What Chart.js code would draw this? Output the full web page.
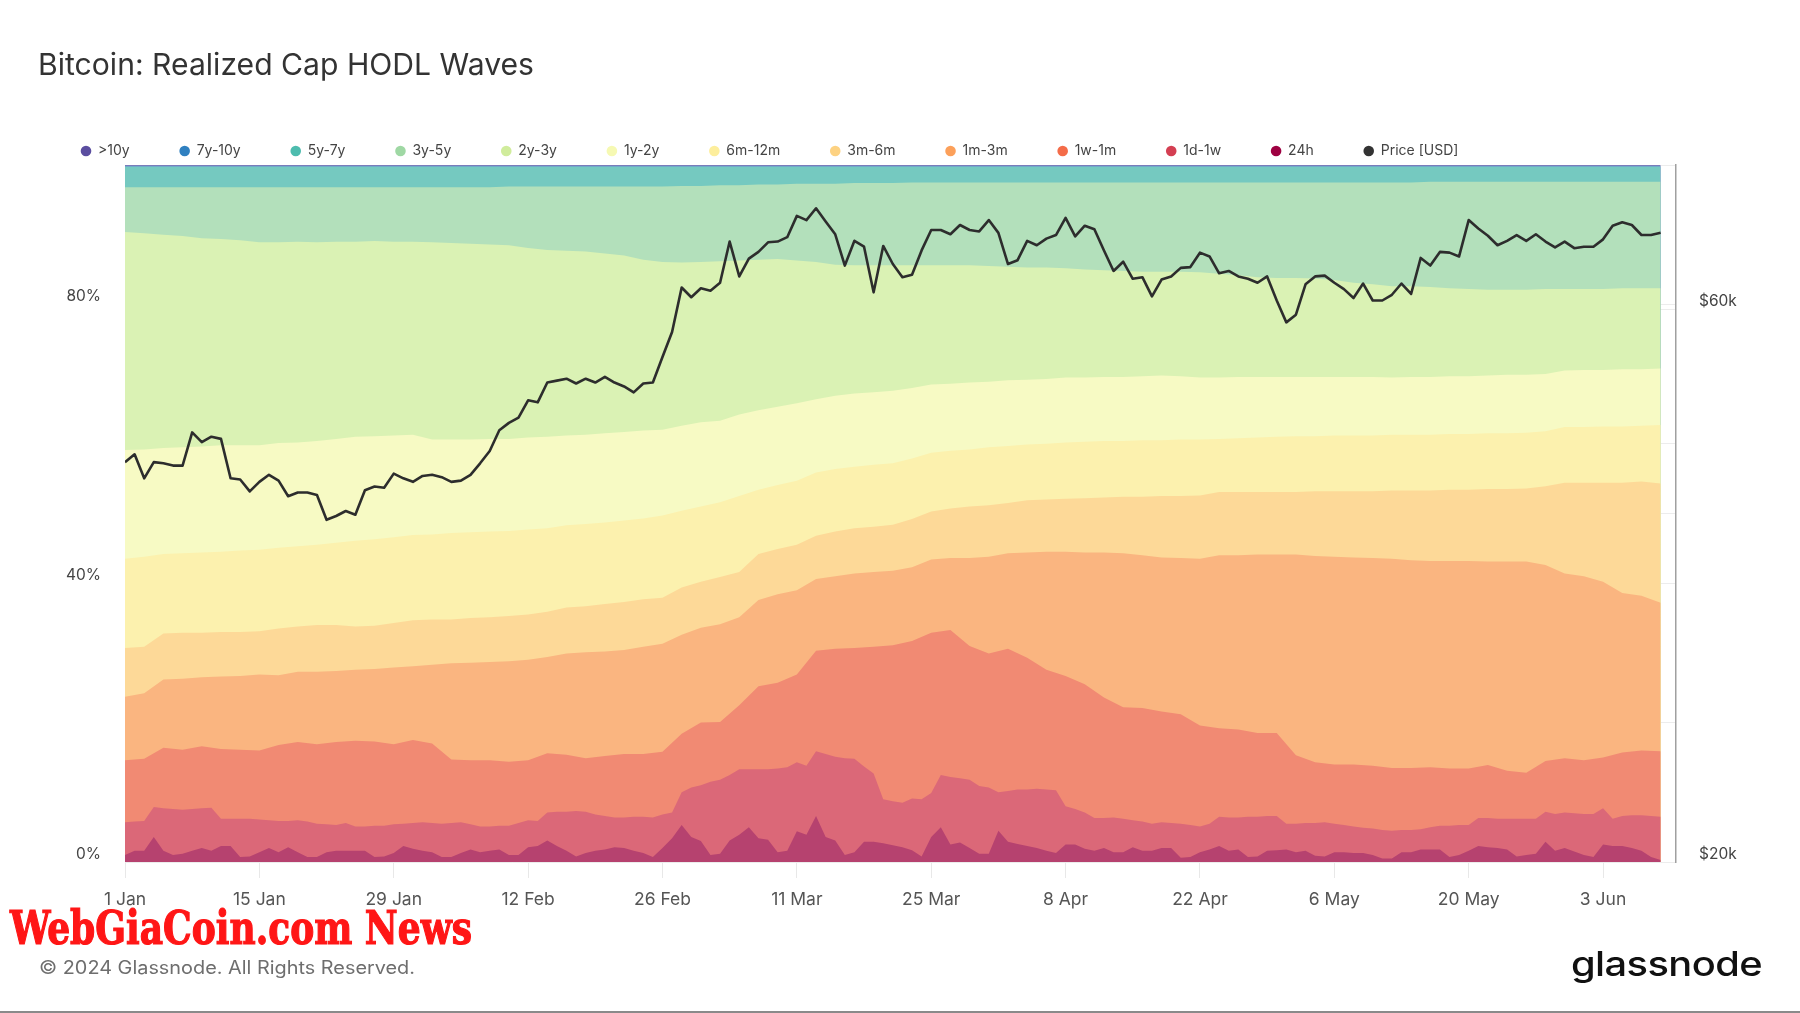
<!DOCTYPE html>
<html>
<head>
<meta charset="utf-8">
<title>Bitcoin: Realized Cap HODL Waves</title>
<script src="https://cdn.jsdelivr.net/npm/chart.js@4.4.1/dist/chart.umd.min.js"></script>
<style>
    html, body { margin: 0; padding: 0; background: #fff; }
    #wrap { position: relative; width: 1800px; height: 1013px; overflow: hidden; font-family: Inter, "Noto Sans", sans-serif; }
    #chart { position: absolute; left: 0; top: 0; }
    .txt { position: absolute; white-space: nowrap; line-height: 1; transform-origin: 0 0; }
    #title { left: 38px; top: 49px; font-size: 30px; color: #333; }
    #mark { left: 10px; top: 904px; font-family: "DejaVu Serif Condensed", "DejaVu Serif", serif; font-stretch: condensed; font-weight: bold; font-size: 47px; color: #ff1616; -webkit-text-stroke: 1.2px #ff1616; }
    #copy { left: 39px; top: 959px; font-size: 18px; color: #6e6e6e; }
    #logo { left: 1571px; top: 947px; font-size: 34px; font-weight: 500; color: #111; letter-spacing: -0.5px; }
    #rule { position: absolute; left: 0; top: 1011px; width: 1800px; height: 2px; background: #8a8a8a; }
</style>
</head>
<body>
<div id="wrap">
    <canvas id="chart" width="1800" height="1013"></canvas>
    <div class="txt" id="title">Bitcoin: Realized Cap HODL Waves</div>
    <div class="txt" id="mark">WebGiaCoin.com News</div>
    <div class="txt" id="copy">© 2024 Glassnode. All Rights Reserved.</div>
    <div class="txt" id="logo">glassnode</div>
    <div id="rule"></div>
</div>
<script>
// x positions: day index from 1 Jan 2024
const days = Array.from({length: 161}, (_, i) => i);
const days2 = Array.from({length: 81}, (_, i) => i * 2);
const daysSparse = [0, 40, 80, 120, 160];

const tickDays = [0, 14, 28, 42, 56, 70, 84, 98, 112, 126, 140, 154];
const tickLabels = ['1 Jan', '15 Jan', '29 Jan', '12 Feb', '26 Feb', '11 Mar', '25 Mar', '8 Apr', '22 Apr', '6 May', '20 May', '3 Jun'];

// BTC price (USD), daily
const priceUsd = [
    44300, 45000, 42900, 44300, 44200, 44000, 44000, 47000, 46100, 46600, 46400, 42900, 42800, 41800,
    42600, 43200, 42700, 41400, 41700, 41700, 41500, 39500, 39800, 40200, 39900, 41900, 42200, 42100,
    43300, 42900, 42600, 43100, 43200, 43000, 42600, 42700, 43200, 44200, 45300, 47200, 47900, 48400,
    50100, 49900, 51900, 52100, 52300, 51800, 52300, 51900, 52500, 51900, 51500, 50900, 51800,
    51900, 54600, 57400, 62700, 61500, 62600, 62300, 63300, 68700, 64100, 66400, 67300, 68600, 68700,
    69300, 72300, 71700, 73400, 71500, 69700, 65500, 68800, 68000, 62100, 68100, 65700, 64000,
    64300, 67500, 70300, 70300, 69700, 71000, 70300, 70100, 71700, 69900, 65700, 66200, 68800, 68200,
    69100, 69600, 72000, 69400, 70900, 70400, 67500, 64800, 66000, 63800, 64000, 61600, 63700,
    64100, 65200, 65300, 67200, 66700, 64500, 64800, 64100, 63800, 63300, 64100, 61100, 58500, 59400,
    63100, 64100, 64200, 63300, 62500, 61400, 63200, 61100, 61100, 61800, 63200, 61900, 66500,
    65500, 67300, 67200, 66700, 71700, 70500, 69500, 68200, 68800, 69600, 68800, 69700, 68700,
    67900, 68700, 67800, 68000, 68000, 69000, 70900, 71400, 71000, 69600, 69600, 69900
];

// upper edge of each band in % of realized cap (cumulative from the bottom)
const top24h = [
    1.0, 1.6, 1.6, 3.6, 1.6, 1.0, 1.2, 1.6, 2.0, 1.6, 2.3, 2.3, 0.7, 0.8, 1.4, 2.0, 1.4, 2.1, 1.4, 0.7, 0.7, 1.4, 1.6, 1.6, 1.6, 1.6, 0.7, 0.8,
    1.3, 2.3, 1.9, 1.6, 1.4, 0.7, 0.7, 1.3, 1.8, 1.4, 1.6, 1.8, 1.0, 1.0, 2.1, 2.3, 3.1, 2.3, 1.6, 0.8, 1.3, 1.6, 1.8, 2.1, 2.0, 1.6, 1.3,
    0.7, 2.0, 3.4, 5.3, 3.6, 3.0, 1.0, 1.2, 3.1, 3.9, 5.0, 3.4, 3.2, 1.4, 1.6, 4.4, 3.9, 6.6, 3.6, 3.1, 1.0, 1.4, 2.9, 2.9, 2.7, 2.4, 2.1,
    1.7, 0.8, 3.6, 5.0, 2.5, 2.8, 2.0, 1.2, 1.2, 4.5, 2.9, 2.6, 2.3, 2.0, 1.6, 1.3, 2.5, 2.5, 1.9, 1.6, 2.0, 1.4, 1.4, 2.1, 1.6, 1.6, 2.0,
    2.0, 0.6, 0.7, 1.4, 1.8, 2.3, 1.6, 1.8, 0.7, 0.8, 1.6, 1.7, 1.8, 1.4, 1.6, 0.9, 0.8, 1.4, 1.4, 1.3, 1.3, 1.0, 0.5, 0.5, 1.4, 1.4, 1.8,
    1.8, 1.8, 0.7, 1.0, 1.6, 2.3, 2.1, 2.0, 1.8, 0.8, 1.0, 1.2, 2.9, 1.6, 2.0, 1.5, 1.0, 0.7, 2.5, 2.3, 2.3, 2.0, 1.6, 0.7, 0.3
];
const top1d1w = [
    5.7, 5.8, 5.9, 7.9, 7.7, 7.6, 7.5, 7.6, 7.7, 7.8, 6.2, 6.2, 6.2, 6.2, 6.1, 6.0, 5.9, 5.9, 6.0, 5.8, 5.5, 5.4, 5.3, 5.6, 5.1, 5.1, 5.2, 5.2,
    5.4, 5.5, 5.6, 5.7, 5.6, 5.5, 5.6, 5.7, 5.4, 5.1, 5.1, 5.2, 5.2, 5.6, 6.0, 5.9, 7.1, 7.2, 7.2, 7.3, 7.2, 6.8, 6.6, 6.4, 6.4, 6.5, 6.5,
    6.4, 6.8, 7.1, 10.0, 10.7, 11.0, 11.5, 11.8, 12.5, 13.3, 13.3, 13.3, 13.3, 13.4, 13.6, 14.3, 13.8, 15.9, 15.5, 15.1, 14.9, 14.8, 13.7, 12.7, 9.0, 8.7, 8.5,
    9.1, 9.0, 9.9, 12.5, 12.2, 12.0, 11.8, 10.9, 10.7, 10.0, 10.2, 10.4, 10.4, 10.5, 10.4, 10.3, 8.0, 7.6, 7.1, 6.3, 6.3, 6.4, 6.2, 6.0, 5.8, 5.5, 5.7,
    5.6, 5.5, 5.3, 5.1, 5.5, 6.5, 6.4, 6.4, 6.5, 6.5, 6.6, 6.6, 5.5, 5.5, 5.6, 5.6, 5.7, 5.5, 5.3, 5.1, 4.9, 4.8, 4.6, 4.5, 4.6, 4.6, 4.7,
    5.0, 5.2, 5.2, 5.3, 5.3, 6.3, 6.3, 6.2, 6.2, 6.2, 6.2, 6.2, 7.2, 6.9, 7.1, 7.0, 6.9, 6.9, 7.7, 6.2, 6.6, 6.7, 6.7, 6.6, 6.5
];
// every second day from here on
const top1w1m = [
    14.6, 14.8, 16.4, 16.1, 16.6, 16.2, 16.1, 16.0, 16.8, 17.2, 16.9, 17.2, 17.4, 17.3,
    16.9, 17.5, 17.0, 14.7, 14.6, 14.6, 14.4, 14.6, 15.6, 15.4, 14.9, 15.2, 15.5, 15.5,
    15.8, 18.4, 20.0, 20.1, 22.5, 25.2, 25.7, 26.9, 30.3, 30.6, 30.7, 30.9, 31.1,
    31.7, 32.9, 33.3, 31.0, 29.9, 30.6, 29.3, 27.6, 26.7, 25.5, 23.6, 22.2, 22.1, 21.6,
    21.2, 19.6, 19.2, 19.0, 18.5, 18.5, 15.3, 14.3, 14.0, 14.0, 13.8, 13.5, 13.5,
    13.6, 13.4, 13.4, 13.9, 13.1, 12.8, 14.5, 14.9, 14.6, 15.0, 15.7, 16.0, 15.9
];
const top1m3m = [
    23.7, 24.2, 26.2, 26.3, 26.5, 26.6, 26.7, 26.9, 26.8, 27.3, 27.3, 27.4, 27.6, 27.7,
    27.9, 28.1, 28.3, 28.5, 28.6, 28.7, 28.8, 29.0, 29.4, 29.9, 30.1, 30.2, 30.4, 30.9,
    31.3, 32.6, 33.6, 34.1, 35.1, 37.6, 38.4, 39.0, 40.6, 41.0, 41.4, 41.6, 41.8,
    42.3, 43.4, 43.6, 43.6, 43.8, 44.3, 44.4, 44.5, 44.5, 44.4, 44.4, 44.3, 44.0, 43.7,
    43.6, 43.5, 44.0, 44.0, 44.1, 44.1, 44.1, 43.9, 43.8, 43.7, 43.6, 43.5, 43.3,
    43.2, 43.2, 43.2, 43.1, 43.1, 43.1, 42.6, 41.4, 41.0, 40.2, 38.6, 38.2, 37.2
];
const top3m6m = [
    30.7, 30.9, 32.8, 32.9, 32.9, 33.0, 33.0, 33.1, 33.5, 33.8, 34.0, 34.0, 33.8, 33.9,
    34.3, 34.7, 34.8, 34.8, 35.0, 35.1, 35.3, 35.5, 35.9, 36.5, 36.7, 37.0, 37.3, 37.7,
    37.9, 39.4, 40.2, 40.9, 41.6, 44.2, 44.9, 45.5, 46.8, 47.4, 47.9, 48.1, 48.4,
    49.2, 50.3, 50.7, 51.0, 51.2, 51.5, 51.9, 52.0, 52.1, 52.2, 52.3, 52.4, 52.4, 52.5,
    52.5, 52.6, 53.1, 53.1, 53.1, 53.1, 53.1, 53.2, 53.2, 53.2, 53.2, 53.3, 53.3,
    53.3, 53.4, 53.4, 53.5, 53.5, 53.6, 53.9, 54.4, 54.4, 54.4, 54.4, 54.6, 54.3
];
const top6m12m = [
    43.5, 43.8, 44.2, 44.3, 44.4, 44.5, 44.7, 44.8, 45.1, 45.3, 45.5, 45.8, 46.1, 46.3,
    46.6, 46.9, 47.0, 47.2, 47.3, 47.4, 47.5, 47.7, 47.9, 48.3, 48.5, 48.7, 49.0, 49.3,
    49.7, 50.4, 51.0, 51.6, 52.5, 53.4, 54.1, 54.7, 55.9, 56.4, 56.7, 57.0, 57.2,
    57.9, 58.7, 59.0, 59.2, 59.5, 59.7, 59.9, 60.0, 60.2, 60.3, 60.4, 60.4, 60.5, 60.5,
    60.6, 60.6, 60.7, 60.8, 60.9, 61.0, 61.1, 61.1, 61.2, 61.2, 61.2, 61.3, 61.3,
    61.3, 61.4, 61.4, 61.5, 61.5, 61.6, 61.8, 62.4, 62.4, 62.5, 62.5, 62.6, 62.7
];
const top1y2y = [
    59.1, 59.2, 59.4, 59.5, 59.6, 59.8, 59.8, 59.8, 60.1, 60.2, 60.4, 60.7, 61.0, 61.1,
    61.2, 61.3, 60.6, 60.6, 60.6, 60.7, 60.7, 60.9, 61.0, 61.2, 61.3, 61.5, 61.7, 61.9,
    62.0, 62.6, 63.1, 63.3, 64.2, 64.8, 65.3, 65.8, 66.4, 66.9, 67.2, 67.4, 67.6,
    68.0, 68.5, 68.6, 68.8, 68.9, 69.1, 69.2, 69.3, 69.5, 69.5, 69.6, 69.6, 69.7, 69.8,
    69.7, 69.5, 69.5, 69.6, 69.6, 69.6, 69.6, 69.6, 69.6, 69.6, 69.6, 69.5, 69.6,
    69.6, 69.7, 69.7, 69.8, 69.9, 69.9, 70.0, 70.5, 70.6, 70.6, 70.7, 70.7, 70.8
];
const top2y3y = [
    90.4, 90.2, 90.0, 89.8, 89.5, 89.4, 89.2, 88.9, 88.9, 89.0, 88.9, 89.0, 89.0, 89.1,
    89.0, 89.0, 88.9, 88.8, 88.7, 88.6, 88.5, 88.1, 87.8, 87.7, 87.6, 87.3, 87.0, 86.4,
    86.1, 86.0, 86.1, 86.2, 86.3, 86.4, 86.5, 86.3, 86.1, 85.7, 85.6, 85.6, 85.6,
    85.6, 85.6, 85.6, 85.6, 85.5, 85.4, 85.3, 85.3, 85.2, 85.0, 84.9, 84.8, 84.7, 84.7,
    84.7, 84.6, 84.4, 84.2, 83.9, 83.8, 83.8, 83.7, 83.5, 83.1, 82.9, 82.6, 82.6,
    82.5, 82.3, 82.2, 82.1, 82.1, 82.1, 82.2, 82.2, 82.2, 82.2, 82.3, 82.3, 82.3
];
const top3y5y = [
    96.8, 96.8, 96.8, 96.8, 96.8, 96.8, 96.8, 96.8, 96.8, 96.8, 96.8, 96.8, 96.8, 96.8,
    96.8, 96.8, 96.8, 96.8, 96.8, 96.8, 96.9, 96.9, 96.9, 96.9, 96.9, 96.9, 96.9, 96.9,
    96.9, 97.0, 97.0, 97.1, 97.1, 97.2, 97.2, 97.3, 97.3, 97.3, 97.4, 97.4, 97.4,
    97.5, 97.5, 97.5, 97.5, 97.5, 97.5, 97.5, 97.5, 97.5, 97.5, 97.5, 97.5, 97.5, 97.5,
    97.5, 97.5, 97.5, 97.5, 97.5, 97.5, 97.5, 97.5, 97.5, 97.5, 97.5, 97.5, 97.5,
    97.6, 97.6, 97.6, 97.6, 97.6, 97.6, 97.6, 97.6, 97.6, 97.6, 97.6, 97.6, 97.6
];
// oldest cohorts, nearly flat
const top5y7y = [99.75, 99.75, 99.75, 99.75, 99.75];
const top7y10y = [99.88, 99.88, 99.88, 99.88, 99.88];
const top10y = [100, 100, 100, 100, 100];

const bandLabels = ['24h', '1d-1w', '1w-1m', '1m-3m', '3m-6m', '6m-12m', '1y-2y', '2y-3y', '3y-5y', '5y-7y', '7y-10y', '>10y'];
const bandTops = [top24h, top1d1w, top1w1m, top1m3m, top3m6m, top6m12m, top1y2y, top2y3y, top3y5y, top5y7y, top7y10y, top10y];
const bandDays = [days, days, days2, days2, days2, days2, days2, days2, days2, daysSparse, daysSparse, daysSparse];
const fillColors = ['#b6426f', '#db6878', '#f18a73', '#fab580', '#fdd998', '#fcf1ae', '#f7fac4', '#daf2b4', '#b3e0bb', '#75c9c0', '#6f9fcc', '#7d70b4'];
const legendColors = ['#9e0142', '#d43f52', '#f46c49', '#fca05a', '#fdd282', '#fdee9c', '#f6f9b3', '#d0ec9c', '#9fd8a4', '#4dbcae', '#2f80c0', '#5b4ea0'];

function toPoints(xs, ys) {
    return xs.map((x, i) => ({x: x, y: ys[i]}));
}

const datasets = [{
    label: 'Price [USD]',
    data: toPoints(days, priceUsd),
    yAxisID: 'y1',
    borderColor: '#2d2d2d',
    borderWidth: 2.6,
    borderJoinStyle: 'round',
    pointBackgroundColor: '#333',
    pointBorderWidth: 0,
    fill: false,
    tension: 0
}];
bandLabels.forEach((name, i) => {
    datasets.push({
        label: name,
        data: toPoints(bandDays[i], bandTops[i]),
        yAxisID: 'y',
        backgroundColor: fillColors[i],
        borderWidth: 0,
        pointBackgroundColor: legendColors[i],
        pointBorderWidth: 0,
        fill: 'origin',
        tension: 0
    });
});

// legend box takes a fixed height so the plot starts right under it
const legendHeight = {
    id: 'legendHeight',
    beforeInit(chart) {
        const fit = chart.legend.fit;
        chart.legend.fit = function () {
            fit.call(this);
            this.height = 71;
        };
    }
};

Chart.defaults.font.family = 'Inter';

new Chart(document.getElementById('chart'), {
    type: 'line',
    data: { datasets: datasets },
    plugins: [legendHeight],
    options: {
        responsive: false,
        devicePixelRatio: 1,
        animation: false,
        layout: { padding: { top: 94, left: 31, right: 0, bottom: 0 } },
        elements: { point: { radius: 0, hoverRadius: 0 } },
        plugins: {
            tooltip: { enabled: false },
            legend: {
                position: 'top',
                align: 'start',
                reverse: true,
                labels: {
                    usePointStyle: true,
                    pointStyle: 'circle',
                    boxWidth: 10,
                    boxHeight: 7.5,
                    padding: 50,
                    color: '#444',
                    font: { size: 14 }
                }
            }
        },
        scales: {
            x: {
                type: 'linear',
                min: 0,
                max: 161.6,
                afterBuildTicks: scale => { scale.ticks = tickDays.map(v => ({value: v})); },
                afterFit: scale => { scale.height = 151; },
                ticks: {
                    callback: v => tickLabels[tickDays.indexOf(v)],
                    autoSkip: false,
                    maxRotation: 0,
                    padding: 11,
                    color: '#555',
                    font: { size: 17.5 }
                },
                grid: { color: '#e8e8e8', tickLength: 16 },
                border: { display: false }
            },
            y: {
                position: 'left',
                min: 0,
                max: 100,
                afterFit: scale => { scale.width = 94; },
                ticks: {
                    stepSize: 20,
                    callback: v => (v % 40 === 0 && v < 100) ? v + '%' : '',
                    labelOffset: -8,
                    padding: 24,
                    color: '#444',
                    font: { size: 15.5 }
                },
                grid: { color: '#ececec', drawTicks: false },
                border: { display: false }
            },
            y1: {
                type: 'logarithmic',
                position: 'right',
                min: 20000,
                max: 80000,
                afterBuildTicks: scale => { scale.ticks = [20000, 40000, 60000].map(v => ({value: v})); },
                afterFit: scale => { scale.width = 124; },
                ticks: {
                    callback: v => v === 40000 ? '' : '$' + (v / 1000) + 'k',
                    labelOffset: -8,
                    padding: 23,
                    color: '#444',
                    font: { size: 15.5 }
                },
                grid: { color: '#ececec', drawTicks: false },
                border: { display: true, color: '#a0a0a0', width: 1.5 }
            }
        }
    }
});

// stretch the overlay texts to the widths they have in the picture
function fitWidth(id, w) {
    const el = document.getElementById(id);
    const r = el.getBoundingClientRect();
    el.style.transform = 'scaleX(' + (w / r.width) + ')';
}
fitWidth('title', 496);
fitWidth('mark', 462);
fitWidth('copy', 376);
fitWidth('logo', 191);
</script>
</body>
</html>
